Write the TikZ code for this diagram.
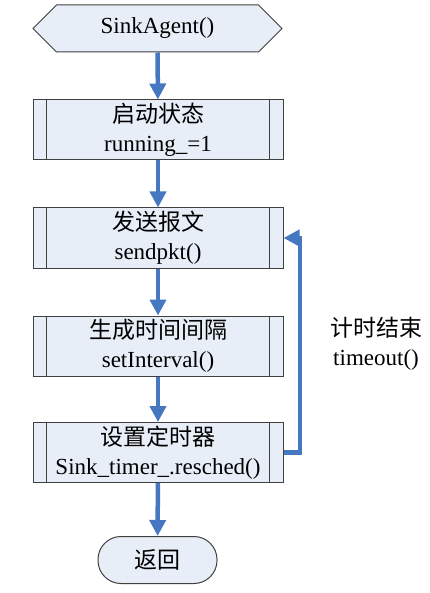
\documentclass[tikz,border=0pt]{standalone}
\usepackage{fontspec}
\setmainfont{Liberation Serif}
\newfontfamily\cjk{Noto Sans CJK SC}
\usetikzlibrary{shapes.symbols, positioning, arrows.meta}
\definecolor{boxfill}{HTML}{E8EEF8}
\definecolor{flowblue}{HTML}{4677C1}

\begin{document}
\begin{tikzpicture}[x=1pt, y=-1pt,
					font=\fontsize{23}{29}\selectfont,
					base/.style={draw=black!75, fill=boxfill, line width=1pt, align=center, inner sep=0pt},
					proc/.style={base, minimum width=250, minimum height=60},
					startbox/.style={base, signal, signal to=west and east, signal pointer angle=90,
						minimum width=249, minimum height=47},
					endbox/.style={base, rounded corners=23, minimum width=119, minimum height=47},
					flow/.style={->, draw=flowblue, line width=4.5pt, >={Triangle[length=16pt, width=16pt]}},
					sidebar/.style={draw=black!75, line width=1pt}]

\useasboundingbox (0,0) rectangle (429,593);

\node[startbox] (start) at (157.5,28.5) {SinkAgent()};
\node[proc] (b1) at (158,130) {{\cjk 启动状态}\\running\_=1};
\node[proc] (b2) at (158,238) {{\cjk 发送报文}\\sendpkt()};
\node[proc] (b3) at (158,346) {{\cjk 生成时间间隔}\\setInterval()};
\node[proc] (b4) at (158,452.5) {{\cjk 设置定时器}\\Sink\_timer\_.resched()};
\node[endbox] (stop) at (157.5,560) {\cjk 返回};
\node[align=center] (timer) at (376,344) {{\cjk 计时结束}\\timeout()};

% side bars of the process boxes
\foreach \n in {b1,b2,b3,b4} {
	\draw[sidebar] ([xshift=14]\n.north west) -- ([xshift=14]\n.south west);
	\draw[sidebar] ([xshift=-14]\n.north east) -- ([xshift=-14]\n.south east);
}

\coordinate (back) at (300,452.5);
\draw[flow] (start) -- (b1);
\draw[flow] (b1) -- (b2);
\draw[flow] (b2) -- (b3);
\draw[flow] (b3) -- (b4);
\draw[flow] (b4) -- (stop);
\draw[flow] (b4.east) -- (back) |- (b2.east);
\end{tikzpicture}
\end{document}
